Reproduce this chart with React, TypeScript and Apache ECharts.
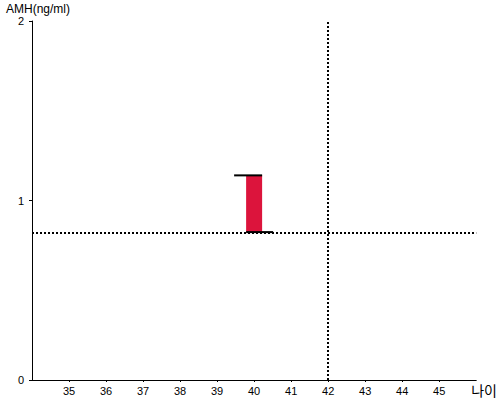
import React, { useEffect, useRef } from "react";
import * as echarts from "echarts";

const ages = [40];
const amhLow = [0.824];
const amhHigh = [1.14];
const refAge = 42;
const refAmh = 0.824;
const xTicks = [35, 36, 37, 38, 39, 40, 41, 42, 43, 44, 45];

const FONT = "'Liberation Sans', Arial, 'Noto Sans CJK KR', sans-serif";

export default function App() {
  const ref = useRef<HTMLDivElement>(null);
  useEffect(() => {
    if (!ref.current) return;
    const chart = echarts.init(ref.current, null, { renderer: "svg" });
    const data = ages.map((a, i) => [a, amhLow[i], amhHigh[i]]);
    chart.setOption({
      animation: false,
      backgroundColor: "#ffffff",
      grid: { left: 32, right: 20, top: 21, bottom: 20 },
      xAxis: {
        type: "value",
        min: xTicks[0] - 1,
        max: xTicks[xTicks.length - 1] + 1,
        interval: 1,
        name: "나이",
        nameLocation: "end",
        nameGap: -5,
        nameTextStyle: {
          fontFamily: FONT,
          fontSize: 14,
          color: "#000",
          align: "left",
          verticalAlign: "top",
          padding: [4, 0, 0, 0],
        },
        axisLine: { lineStyle: { color: "#000", width: 1 } },
        axisTick: { show: true, length: 2, lineStyle: { color: "#000" } },
        axisLabel: {
          showMinLabel: false,
          showMaxLabel: false,
          fontFamily: FONT,
          fontSize: 11,
          color: "#000",
          margin: 5,
        },
        splitLine: { show: false },
      },
      yAxis: {
        type: "value",
        min: 0,
        max: 2,
        interval: 1,
        name: "AMH(ng/ml)",
        nameLocation: "end",
        nameGap: 6,
        nameTextStyle: {
          fontFamily: FONT,
          fontSize: 12,
          color: "#000",
          align: "center",
          verticalAlign: "bottom",
          padding: [0, 0, 0, 12],
        },
        axisLine: { show: true, lineStyle: { color: "#000", width: 1 } },
        axisTick: { show: true, length: 3, lineStyle: { color: "#000" } },
        axisLabel: { fontFamily: FONT, fontSize: 11, color: "#000", margin: 8 },
        splitLine: { show: false },
      },
      series: [
        {
          type: "custom",
          data,
          renderItem: (params: any, api: any) => {
            const x = api.value(0);
            const lo = api.coord([x, api.value(1)]);
            const hi = api.coord([x, api.value(2)]);
            const cx = lo[0];
            const w = 16;
            return {
              type: "group",
              children: [
                {
                  type: "rect",
                  shape: { x: cx - w / 2, y: hi[1], width: w, height: lo[1] - hi[1] },
                  style: { fill: "#DC143C" },
                },
                {
                  type: "line",
                  shape: { x1: cx - w / 2 - 12, y1: hi[1], x2: cx + w / 2, y2: hi[1] },
                  style: { stroke: "#000", lineWidth: 2 },
                },
                {
                  type: "line",
                  shape: { x1: cx - w / 2, y1: lo[1], x2: cx + w / 2 + 11, y2: lo[1] },
                  style: { stroke: "#000", lineWidth: 2 },
                },
              ],
            };
          },
          markLine: {
            silent: true,
            symbol: "none",
            label: { show: false },
            lineStyle: { color: "#000", width: 2, type: [2, 2] },
            data: [{ xAxis: refAge }, { yAxis: refAmh }],
          },
          z: 3,
        },
      ],
    });
    return () => chart.dispose();
  }, []);
  return <div ref={ref} style={{ width: 500, height: 400, position: "absolute", left: 0, top: 0 }} />;
}
